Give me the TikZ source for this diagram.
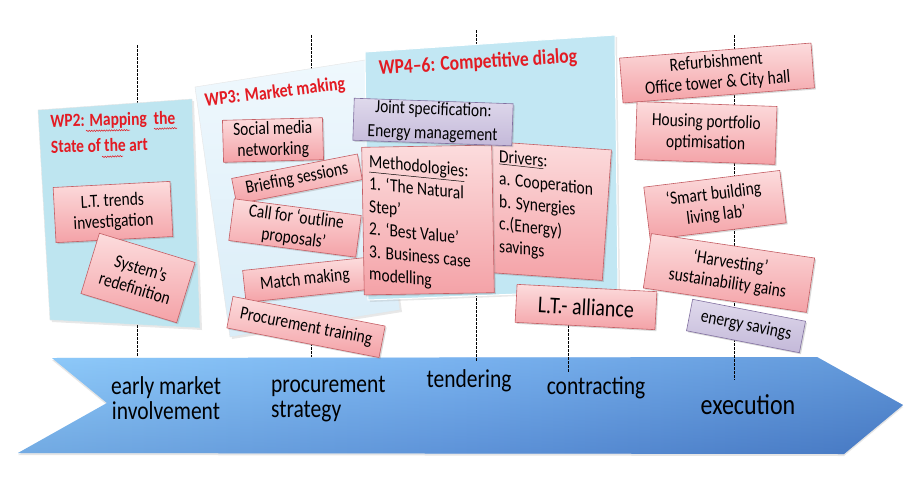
\documentclass[tikz,border=0pt]{standalone}
\usepackage{fontspec}
\setmainfont{Carlito}
\usetikzlibrary{shadows,decorations.pathmorphing}
\definecolor{arrowL}{HTML}{8FCBFA}
\definecolor{arrowM}{HTML}{6EA6EA}
\definecolor{arrowR}{HTML}{4A7DC8}
\definecolor{arrowD}{HTML}{3F6FB8}
\definecolor{pinkT}{HTML}{FCDCDD}
\definecolor{pinkB}{HTML}{F4A2A7}
\definecolor{pinkD}{HTML}{C45E64}
\definecolor{lilT}{HTML}{DFD9EC}
\definecolor{lilB}{HTML}{C4B9D9}
\definecolor{lilD}{HTML}{8170A0}
\definecolor{wpA}{HTML}{BEE5F0}
\definecolor{wpBt}{HTML}{EFF8FD}
\definecolor{wpBb}{HTML}{DAEDF8}
\definecolor{wpC}{HTML}{C2E7F3}
\definecolor{titleRed}{HTML}{E31B23}
\begin{document}
\begin{tikzpicture}[x=1pt,y=1pt,
  lab/.style={yscale=1.2, font=\fontsize{21.5}{21}\selectfont, text=black, inner sep=0pt},
  box/.style={yscale=1.2, draw=pinkD, line width=0.6pt, top color=pinkT, bottom color=pinkB,
    drop shadow={shadow xshift=1.5pt, shadow yshift=-1.5pt, opacity=0.3},
    inner sep=0pt, align=center, font=\fontsize{15.5}{17.5}\selectfont, text=black},
  lilbox/.style={box, draw=lilD, top color=lilT, bottom color=lilB},
  boxtext/.style={yscale=1.2, inner sep=0pt, align=left, font=\fontsize{15.5}{18.8}\selectfont, text=black},
  wptitle/.style={yscale=1.2, inner sep=0pt, text=titleRed},
  guide/.style={black, line width=0.7pt, dash pattern=on 2.5pt off 1.5pt},
  squiggle/.style={titleRed, line width=0.5pt, decorate, decoration={snake, amplitude=0.7pt, segment length=2.5pt}},
  panelshadow/.style={drop shadow={shadow xshift=2pt, shadow yshift=-2pt, opacity=0.18}},
]
\useasboundingbox (0,0) rectangle (921,-501);
\fill[white] (0,0) rectangle (921,-501);

% process arrow
\path[left color=arrowL, right color=arrowR, middle color=arrowM,
      drop shadow={shadow xshift=0pt, shadow yshift=-2pt, opacity=0.2}]
  (52,-358) -- (817,-357) -- (903,-405) -- (844,-454) -- (18,-453) -- (107,-403) -- cycle;
\path[top color=arrowL, bottom color=arrowD, fill opacity=0.35]
  (52,-358) -- (817,-357) -- (903,-405) -- (844,-454) -- (18,-453) -- (107,-403) -- cycle;

% guide lines
\coordinate (g1a) at (137,-45);  \coordinate (g1b) at (137,-357);
\coordinate (g2a) at (311,-35);  \coordinate (g2b) at (311,-357);
\coordinate (g3a) at (476,-30);  \coordinate (g3b) at (476,-362);
\coordinate (g4a) at (568,-285); \coordinate (g4b) at (568,-372);
\coordinate (g5a) at (734,-35);  \coordinate (g5b) at (734,-380);
\draw[guide] (g1a) -- (g1b);
\draw[guide] (g2a) -- (g2b);
\draw[guide] (g3a) -- (g3b);
\draw[guide] (g4a) -- (g4b);
\draw[guide] (g5a) -- (g5b);

% arrow labels
\node[lab, align=center] (l1) at (166,-398) {early market\\involvement};
\node[lab, align=left, anchor=west] (l2) at (271,-399) {procurement\\strategy};
\node[lab] (l3) at (469,-381) {tendering};
\node[lab] (l4) at (596,-388) {contracting};
\node[lab, font=\fontsize{24}{28}\selectfont] (l5) at (748,-405) {execution};

% work package panels
\path[fill=wpA, draw=white!80!gray, line width=0.4pt, panelshadow]
  (38,-110) -- (192,-99) -- (200,-328) -- (50,-320) -- cycle;
\path[top color=wpBt, bottom color=wpBb, draw=white!80!gray, line width=0.4pt, panelshadow]
  (195,-87) -- (365,-60) -- (400,-310) -- (230,-337) -- cycle;
\path[fill=wpC, draw=white, line width=1pt, panelshadow]
  (365,-52) -- (615,-35) -- (618,-290) -- (368,-300) -- cycle;

% titles
\node[rotate=1.5, wptitle, anchor=north west, align=left,
      font=\bfseries\fontsize{15.5}{21.5}\selectfont] (t2) at (50,-114)
  {WP2: Mapping\ \ the\\State of the art};
\coordinate (s1a) at (86,-131);  \coordinate (s1b) at (130,-130);
\coordinate (s2a) at (154,-129); \coordinate (s2b) at (177,-128);
\coordinate (s3a) at (102,-157); \coordinate (s3b) at (123,-156);
\draw[squiggle] (s1a) -- (s1b);
\draw[squiggle] (s2a) -- (s2b);
\draw[squiggle] (s3a) -- (s3b);
\node[rotate=7, wptitle, font=\bfseries\fontsize{16}{20}\selectfont] (t3) at (275,-93)
  {WP3: Market making};
\node[rotate=3.5, wptitle, font=\bfseries\fontsize{17.5}{21}\selectfont] (t4) at (478,-63)
  {WP4–6: Competitive dialog};

% WP2 boxes
\node[rotate=3, box, minimum width=117, minimum height=46] (b1) at (113,-212) {L.T. trends\\investigation};
\node[rotate=-17, box, minimum width=100, minimum height=52.5] (b2) at (138,-278) {System’s\\redefinition};

% WP3 boxes
\node[rotate=1.5, box, minimum width=100, minimum height=35] (b3) at (273,-140) {Social media\\networking};
\node[rotate=11, box, minimum width=128, minimum height=21.7] (b4) at (297,-179) {Briefing sessions};
\node[rotate=-7.5, box, minimum width=128, minimum height=35] (b5) at (295,-228) {Call for ‘outline\\proposals’};
\node[rotate=6, box, minimum width=122, minimum height=26.7] (b6) at (305,-280) {Match making};
\node[rotate=-11, box, minimum width=155, minimum height=26.7] (b7) at (306,-327) {Procurement training};

% WP4-6 boxes
\node[rotate=-4, box, minimum width=120, minimum height=109] (drv) at (547,-211) {};
\node[yslant=-0.11, boxtext, anchor=north west] (drvT) at (499,-149)
  {\underline{Drivers}:\\a. Cooperation\\b. Synergies\\c.(Energy)\\savings};
\node[rotate=1, box, minimum width=130, minimum height=123] (meth) at (428,-220) {};
\node[yslant=-0.1, boxtext, anchor=north west] (methT) at (369,-154)
  {\underline{Methodologies}:\\1. ‘The Natural\\Step’\\2. ‘Best Value’\\3. Business case\\modelling};
\node[rotate=-2, lilbox, minimum width=159, minimum height=35, font=\fontsize{15.5}{20}\selectfont] (js) at (433,-122)
  {Joint specification:\\Energy management};
\node[rotate=-3, box, minimum width=140, minimum height=31.7, font=\fontsize{20}{24}\selectfont] (lta) at (586,-307) {L.T.- alliance};

% execution boxes
\node[rotate=4.5, box, minimum width=192, minimum height=37.5] (r1) at (717,-73) {Refurbishment\\Office tower \& City hall};
\node[rotate=-2, box, minimum width=140, minimum height=48.3] (r2) at (706,-133) {Housing portfolio\\optimisation};
\node[rotate=7, box, minimum width=137, minimum height=44] (r3) at (715,-205) {‘Smart building\\living lab’};
\node[rotate=-11, lilbox, minimum width=115, minimum height=26.7] (r5) at (746,-326) {energy savings};
\node[rotate=-8.5, box, minimum width=165, minimum height=45.8] (r4) at (729,-273) {‘Harvesting’\\sustainability gains};
\end{tikzpicture}
\end{document}
